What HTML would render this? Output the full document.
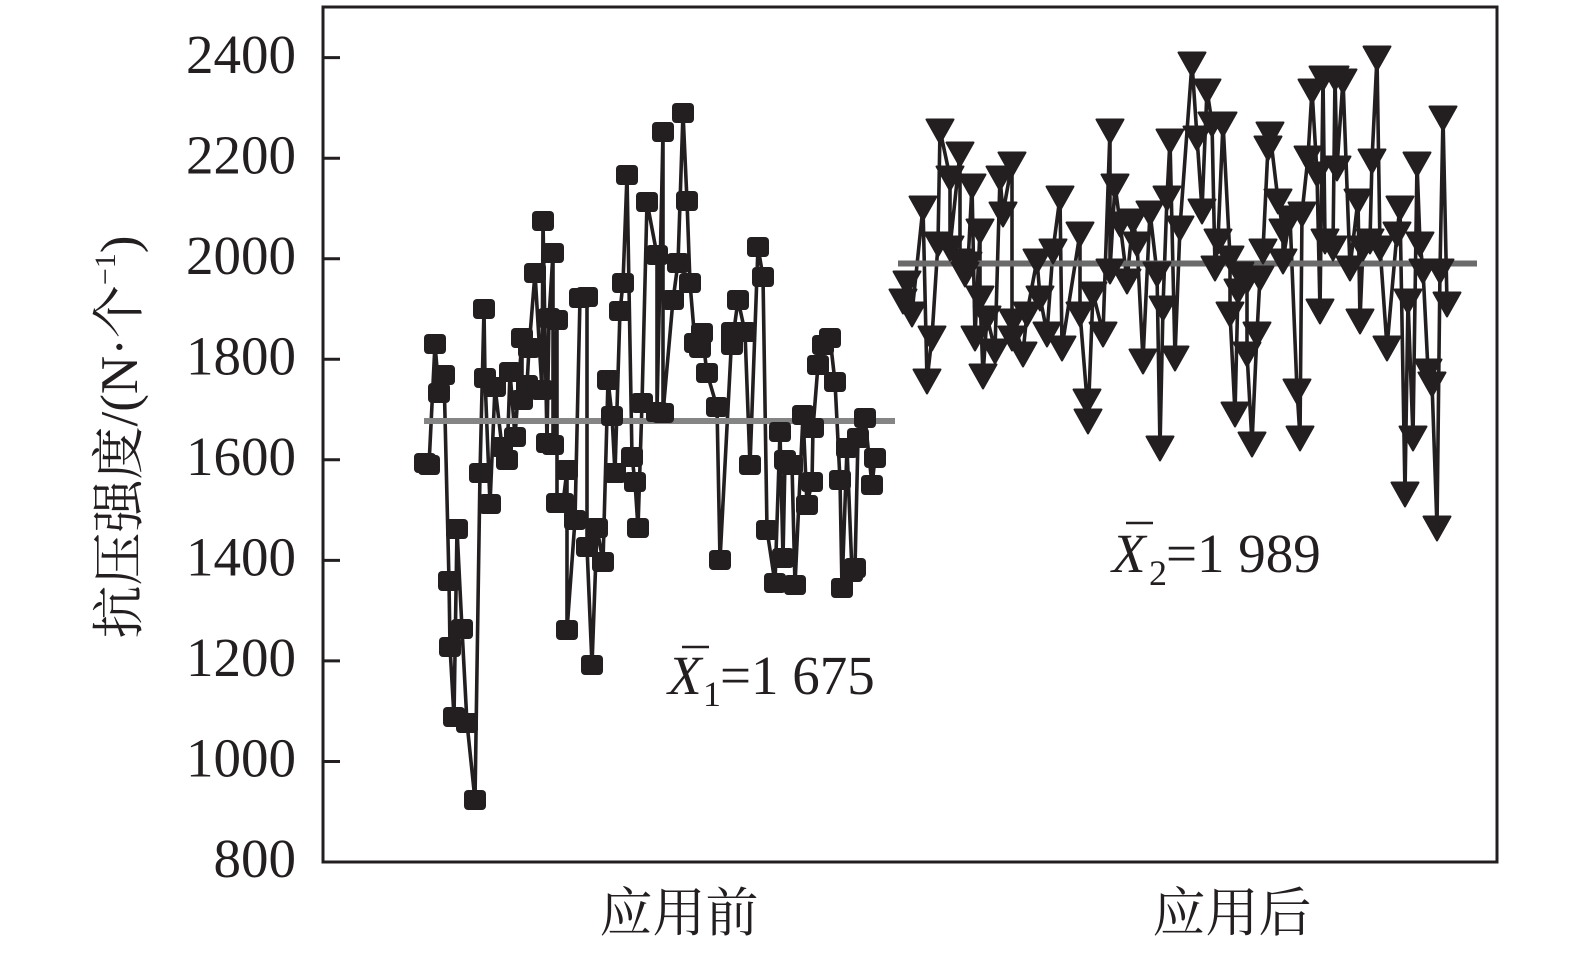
<!DOCTYPE html>
<html><head><meta charset="utf-8"><style>
html,body{margin:0;padding:0;background:#fff;}
svg{display:block;}
</style></head><body>
<svg width="1575" height="955" viewBox="0 0 1575 955" xmlns="http://www.w3.org/2000/svg">
<defs>
<marker id="sq" markerWidth="1" markerHeight="1" refX="0" refY="0" markerUnits="userSpaceOnUse" overflow="visible"><rect x="-11" y="-10" width="22" height="20" rx="4" fill="#231f20"/></marker>
<marker id="tri" markerWidth="1" markerHeight="1" refX="0" refY="0" markerUnits="userSpaceOnUse" overflow="visible"><path d="M-13.5,-10.5 L13.5,-10.5 L0,13.5 Z" fill="#231f20" stroke="#231f20" stroke-width="2" stroke-linejoin="round"/></marker>
</defs>
<rect width="1575" height="955" fill="#fff"/>

<!-- series 1 line -->
<polyline fill="none" stroke="#231f20" stroke-width="3.6" stroke-linejoin="round" points="425,463 429,465 435,344 439,393 444,375 449,581 450,647 454,717 457,529 462,629 467,723 475,800 480,473 484,309 485,378 490,504 495,387 502,447 507,460 510,372 515,437 522,338 522,400 527,385 529,348 535,273 542,390 543,221 547,443 549,318 553,253 553,445 557,320 557,503 563,503 567,470 567,630 575,520 580,298 587,297 587,547 592,665 597,528 603,562 608,380 612,416 615,473 620,311 623,283 627,175 632,457 635,482 638,528 642,403 647,202 657,255 657,412 663,132 663,413 673,300 678,263 683,113 687,201 690,283 695,343 700,348 702,333 707,373 717,407 720,560 732,332 732,345 738,300 745,332 750,465 758,247 763,277 767,530 775,583 780,432 783,558 785,460 792,465 795,585 803,415 807,505 812,482 813,428 818,365 823,345 830,338 835,382 840,480 842,588 847,448 852,572 855,568 858,438 865,418 872,485 875,458"/>

<!-- series 2 line -->
<polyline fill="none" stroke="#231f20" stroke-width="3.6" stroke-linejoin="round" points="903,300 907,282 912,313 923,207 927,380 932,337 938,243 940,130 950,177 950,247 960,153 960,260 965,273 968,263 972,185 975,337 980,230 980,297 983,375 987,317 995,350 1000,177 1003,213 1012,163 1012,337 1013,320 1023,353 1027,313 1037,260 1040,297 1047,333 1053,250 1060,197 1062,347 1080,233 1080,313 1087,400 1088,420 1093,293 1103,333 1110,130 1110,270 1115,185 1120,223 1127,280 1133,220 1137,243 1143,360 1150,212 1157,273 1160,447 1163,307 1167,197 1170,140 1175,357 1180,227 1192,63 1197,137 1202,210 1207,90 1212,123 1215,267 1218,240 1223,123 1230,257 1230,313 1235,413 1238,290 1240,273 1247,280 1247,353 1252,443 1257,333 1260,277 1263,250 1268,147 1270,133 1278,200 1283,230 1283,260 1290,217 1297,390 1300,437 1302,213 1308,157 1312,90 1317,173 1320,310 1323,77 1325,240 1333,247 1335,77 1337,167 1343,80 1350,267 1358,200 1360,320 1363,247 1370,240 1372,160 1377,57 1380,247 1387,347 1397,233 1400,207 1405,493 1408,300 1413,437 1417,163 1420,243 1423,270 1428,370 1432,383 1437,527 1440,270 1443,117 1447,303"/>

<!-- mean lines -->
<line x1="424" y1="421" x2="895" y2="421" stroke="#858585" stroke-width="6"/>
<line x1="898" y1="263.5" x2="1477" y2="263.5" stroke="#6a6a6a" stroke-width="6"/>

<!-- markers -->
<polyline fill="none" stroke="none" marker-start="url(#sq)" marker-mid="url(#sq)" marker-end="url(#sq)" points="425,463 429,465 435,344 439,393 444,375 449,581 450,647 454,717 457,529 462,629 467,723 475,800 480,473 484,309 485,378 490,504 495,387 502,447 507,460 510,372 515,437 522,338 522,400 527,385 529,348 535,273 542,390 543,221 547,443 549,318 553,253 553,445 557,320 557,503 563,503 567,470 567,630 575,520 580,298 587,297 587,547 592,665 597,528 603,562 608,380 612,416 615,473 620,311 623,283 627,175 632,457 635,482 638,528 642,403 647,202 657,255 657,412 663,132 663,413 673,300 678,263 683,113 687,201 690,283 695,343 700,348 702,333 707,373 717,407 720,560 732,332 732,345 738,300 745,332 750,465 758,247 763,277 767,530 775,583 780,432 783,558 785,460 792,465 795,585 803,415 807,505 812,482 813,428 818,365 823,345 830,338 835,382 840,480 842,588 847,448 852,572 855,568 858,438 865,418 872,485 875,458"/>
<polyline fill="none" stroke="none" marker-start="url(#tri)" marker-mid="url(#tri)" marker-end="url(#tri)" points="903,300 907,282 912,313 923,207 927,380 932,337 938,243 940,130 950,177 950,247 960,153 960,260 965,273 968,263 972,185 975,337 980,230 980,297 983,375 987,317 995,350 1000,177 1003,213 1012,163 1012,337 1013,320 1023,353 1027,313 1037,260 1040,297 1047,333 1053,250 1060,197 1062,347 1080,233 1080,313 1087,400 1088,420 1093,293 1103,333 1110,130 1110,270 1115,185 1120,223 1127,280 1133,220 1137,243 1143,360 1150,212 1157,273 1160,447 1163,307 1167,197 1170,140 1175,357 1180,227 1192,63 1197,137 1202,210 1207,90 1212,123 1215,267 1218,240 1223,123 1230,257 1230,313 1235,413 1238,290 1240,273 1247,280 1247,353 1252,443 1257,333 1260,277 1263,250 1268,147 1270,133 1278,200 1283,230 1283,260 1290,217 1297,390 1300,437 1302,213 1308,157 1312,90 1317,173 1320,310 1323,77 1325,240 1333,247 1335,77 1337,167 1343,80 1350,267 1358,200 1360,320 1363,247 1370,240 1372,160 1377,57 1380,247 1387,347 1397,233 1400,207 1405,493 1408,300 1413,437 1417,163 1420,243 1423,270 1428,370 1432,383 1437,527 1440,270 1443,117 1447,303"/>

<!-- frame -->
<rect x="323" y="7" width="1174" height="855" fill="none" stroke="#231f20" stroke-width="3"/>
<!-- y ticks -->
<g stroke="#231f20" stroke-width="3">
<line x1="323" y1="57.6" x2="340" y2="57.6"/>
<line x1="323" y1="158.2" x2="340" y2="158.2"/>
<line x1="323" y1="258.7" x2="340" y2="258.7"/>
<line x1="323" y1="359.3" x2="340" y2="359.3"/>
<line x1="323" y1="459.8" x2="340" y2="459.8"/>
<line x1="323" y1="560.4" x2="340" y2="560.4"/>
<line x1="323" y1="660.9" x2="340" y2="660.9"/>
<line x1="323" y1="761.5" x2="340" y2="761.5"/>
</g>
<g font-family="'Liberation Serif', serif" font-size="55" fill="#231f20" text-anchor="end">
<text x="296" y="73">2400</text>
<text x="296" y="173.5">2200</text>
<text x="296" y="274">2000</text>
<text x="296" y="374.5">1800</text>
<text x="296" y="475">1600</text>
<text x="296" y="575.5">1400</text>
<text x="296" y="676">1200</text>
<text x="296" y="776.5">1000</text>
<text x="296" y="877">800</text>
</g>

<!-- x labels -->
<g font-family="'Liberation Serif','Noto Serif CJK SC',serif" font-size="53" fill="#231f20" text-anchor="middle">
<text x="679" y="931">应用前</text>
<text x="1232" y="931">应用后</text>
</g>

<!-- y label -->
<text transform="translate(137,437) rotate(-90)" text-anchor="middle" font-family="'Liberation Serif','Noto Serif CJK SC',serif" font-size="53" fill="#231f20">抗压强度/(N·个<tspan font-size="30" dy="-22">−1</tspan><tspan dy="22">)</tspan></text>

<!-- annotations -->
<g font-family="'Liberation Serif', serif" fill="#231f20">
<text x="668" y="694" font-size="55" font-style="italic">X</text>
<text x="703" y="706" font-size="36">1</text>
<text x="720" y="694" font-size="55">=1 675</text>
<line x1="682" y1="647" x2="709" y2="647" stroke="#231f20" stroke-width="2.5"/>

<text x="1112" y="572" font-size="55" font-style="italic">X</text>
<text x="1149" y="585" font-size="36">2</text>
<text x="1166" y="572" font-size="55">=1 989</text>
<line x1="1126" y1="523" x2="1153" y2="523" stroke="#231f20" stroke-width="2.5"/>
</g>
</svg>
</body></html>
